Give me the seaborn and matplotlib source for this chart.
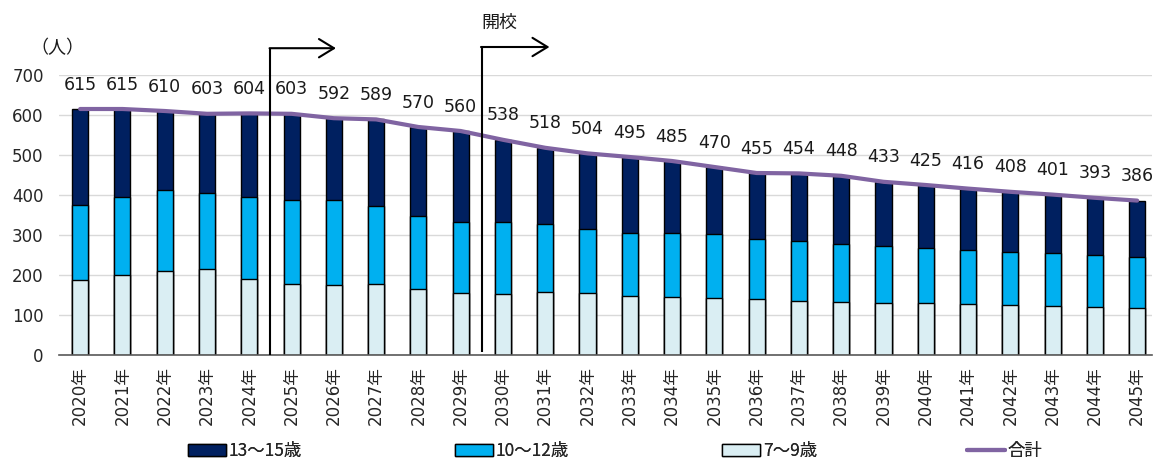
import numpy as np
import pandas as pd
import matplotlib
matplotlib.use("Agg")
import matplotlib.pyplot as plt
import seaborn as sns
from matplotlib.patches import Patch
from matplotlib.lines import Line2D

years = [f"{y}年" for y in range(2020, 2046)]
age_7_9 = [188, 199, 211, 214, 190, 177, 174, 177, 166, 156, 153, 157, 156,
           148, 146, 143, 139, 136, 133, 131, 129, 127, 125, 123, 121, 118]
age_10_12 = [187, 195, 201, 192, 206, 211, 214, 195, 181, 177, 180, 171, 160,
             156, 160, 159, 152, 149, 145, 142, 138, 136, 133, 131, 128, 128]
age_13_15 = [240, 221, 198, 197, 208, 215, 204, 217, 223, 227, 205, 190, 188,
             191, 179, 168, 164, 169, 170, 160, 158, 153, 150, 147, 144, 140]
totals = [615, 615, 610, 603, 604, 603, 592, 589, 570, 560, 538, 518, 504,
          495, 485, 470, 455, 454, 448, 433, 425, 416, 408, 401, 393, 386]
y_ticks = [0, 100, 200, 300, 400, 500, 600, 700]
series_names = ["13〜15歳", "10〜12歳", "7〜9歳", "合計"]
annotation_text = "開校"
unit_text = "（人）"

c_old = "#002060"
c_mid = "#00B0F0"
c_young = "#DAEEF3"
c_line = "#8064A2"

sns.set_theme(style="white")
plt.rcParams["font.family"] = ["DejaVu Sans", "Noto Sans CJK JP"]

df = pd.DataFrame({
    "year": years,
    "young": age_7_9,
    "mid": age_10_12,
    "old": age_13_15,
})
df["cum1"] = df["young"]
df["cum2"] = df["young"] + df["mid"]
df["cum3"] = df["cum2"] + df["old"]

fig = plt.figure(figsize=(11.54, 4.61), dpi=100)
ax = fig.add_axes([59 / 1154, 1 - 355 / 461, (1152 - 59) / 1154, 280 / 461])

bw = 0.38
sns.barplot(data=df, x="year", y="cum3", color=c_old, width=bw, ax=ax,
            edgecolor="black", linewidth=1, saturation=1, zorder=3)
sns.barplot(data=df, x="year", y="cum2", color=c_mid, width=bw, ax=ax,
            edgecolor="black", linewidth=1, saturation=1, zorder=3)
sns.barplot(data=df, x="year", y="cum1", color=c_young, width=bw, ax=ax,
            edgecolor="black", linewidth=1, saturation=1, zorder=3)

xpos = np.arange(len(years))
sns.lineplot(x=xpos, y=totals, color=c_line, linewidth=3, ax=ax, zorder=4)

for i, t in enumerate(totals):
    ax.annotate(str(t), xy=(i, t), xytext=(0, 17.5), textcoords="offset points",
                ha="center", va="center", fontsize=12.5, color="#1a1a1a")

ax.set_xlim(-0.5, 25.35)
ax.set_ylim(0, 700)
ax.set_yticks(y_ticks)
ax.set_yticklabels([str(v) for v in y_ticks])
ax.set_xlabel("")
ax.set_ylabel("")
ax.grid(axis="y", color="#d9d9d9", linewidth=1, zorder=0)
ax.set_axisbelow(True)
for s in ["top", "right", "left"]:
    ax.spines[s].set_visible(False)
ax.spines["bottom"].set_color("#595959")
ax.spines["bottom"].set_linewidth(1.2)
ax.spines["bottom"].set_zorder(5)
ax.tick_params(axis="y", length=0, pad=11, labelsize=12, labelcolor="#262626")
ax.tick_params(axis="x", length=0, pad=8, labelsize=12, labelcolor="#262626")
plt.setp(ax.get_xticklabels(), rotation=90)

# arrows
for x0, ybot, ytop, x1 in [(4.5, 0, 767, 6.05), (9.5, 7, 770, 11.1)]:
    ax.plot([x0, x0], [ybot, ytop], color="black", lw=1.5, clip_on=False,
            solid_capstyle="butt", zorder=6)
    ax.annotate("", xy=(x1, ytop), xytext=(x0 - 0.02, ytop),
                arrowprops=dict(arrowstyle="->,head_length=0.9,head_width=0.55",
                                lw=1.5, color="black", shrinkA=0, shrinkB=0),
                annotation_clip=False)
ax.text(9.5, 830, annotation_text, ha="left", va="center", fontsize=13,
        family=["Noto Sans CJK JP"], color="#1a1a1a", clip_on=False)

fig.text(30 / 1154, 1 - 48 / 461, unit_text, ha="left", va="center",
         fontsize=13, family=["Noto Sans CJK JP"], color="#1a1a1a")

# legend
handles = [
    Patch(facecolor=c_old, edgecolor="black", linewidth=1),
    Patch(facecolor=c_mid, edgecolor="black", linewidth=1),
    Patch(facecolor=c_young, edgecolor="black", linewidth=1),
    Line2D([0], [0], color=c_line, linewidth=3),
]
xs = [188, 455, 722, 967]
for h, name, x in zip(handles, series_names, xs):
    leg = fig.legend(handles=[h], labels=[name], loc="center left",
                     bbox_to_anchor=(x / 1154, 1 - 451 / 461), frameon=False,
                     borderpad=0, borderaxespad=0, handlelength=2.2,
                     handletextpad=0.15,
                     prop={"family": "Noto Sans CJK JP", "size": 12.5})
    fig.add_artist(leg)

fig.savefig("out.png", dpi=100)
